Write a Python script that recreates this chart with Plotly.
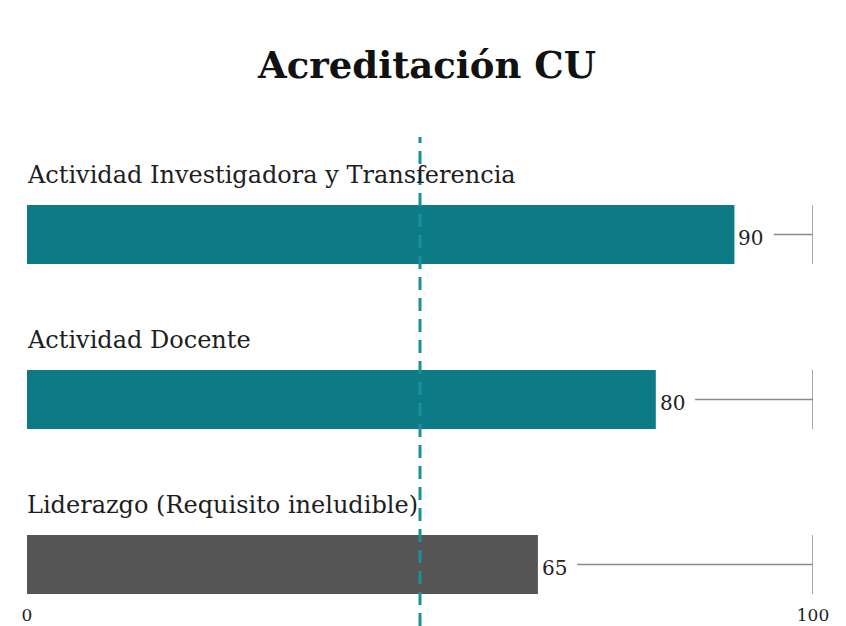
import plotly.graph_objects as go

categories = ["Actividad Investigadora y Transferencia", "Actividad Docente", "Liderazgo (Requisito ineludible)"]
values = [90, 80, 65]
bar_colors = ["#0c7b85", "#0c7b85", "#555555"]
threshold = 50
axis_max = 100
tick_vals = [0, 100]
tick_text = ["0", "100"]
title_text = "Acreditación CU"

# page body has an 8px margin, so the figure is sized/positioned accordingly
W, H = 838, 618
plot_bottom = 595
row0_px, row_gap_px, bar_px = 226.5, 165.0, 59.0
def px_to_y(p):
    return (p - row0_px) / row_gap_px

ypos = list(range(len(categories)))
bar_w = bar_px / row_gap_px

serif = "DejaVu Serif, Liberation Serif, serif"

fig = go.Figure()
fig.add_trace(go.Bar(
    x=values, y=ypos, orientation="h", width=bar_w,
    marker=dict(color=bar_colors, line=dict(width=0)),
    hoverinfo="skip", showlegend=False,
))

annotations = []
shapes = []
label_off = px_to_y(167) - px_to_y(row0_px)
for i, (c, v) in enumerate(zip(categories, values)):
    annotations.append(dict(x=0, y=i + label_off, xref="x", yref="y",
                            text=c, showarrow=False, xanchor="left", yanchor="middle", xshift=-2,
                            font=dict(family=serif, size=24, color="#1e1e1e")))
    annotations.append(dict(x=v, y=i, xref="x", yref="y", text=str(v), showarrow=False,
                            xanchor="left", yanchor="middle", xshift=2, yshift=-3,
                            font=dict(family=serif, size=20, color="#222222")))
    shapes.append(dict(type="line", xref="x", yref="y", x0=v + 5, x1=axis_max, y0=i, y1=i,
                       line=dict(color="#8a8a8a", width=1.5)))
    shapes.append(dict(type="line", xref="x", yref="y", x0=axis_max, x1=axis_max,
                       y0=i - bar_w / 2, y1=i + bar_w / 2,
                       line=dict(color="#8a8a8a", width=1.5)))

shapes.append(dict(type="line", xref="x", yref="paper", x0=threshold, x1=threshold,
                   y0=(plot_bottom - H) / plot_bottom, y1=(plot_bottom - 129) / plot_bottom,
                   line=dict(color="#1a9098", width=3, dash="13px,8px"), layer="above"))

fig.update_layout(
    width=W, height=H,
    margin=dict(l=19, r=33, t=0, b=H - plot_bottom, autoexpand=False),
    paper_bgcolor="white", plot_bgcolor="white",
    title=dict(text="<b>" + title_text + "</b>", x=0.5, xref="container", y=1 - 57 / H,
               yref="container", xanchor="center", yanchor="middle",
               font=dict(family=serif, size=37, color="#111111")),
    xaxis=dict(range=[0, axis_max], tickvals=tick_vals, ticktext=tick_text, showgrid=False,
               zeroline=False, showline=False, ticks="", ticklen=0, automargin=False,
               tickfont=dict(family=serif, size=17, color="#1e1e1e")),
    yaxis=dict(range=[px_to_y(plot_bottom), px_to_y(0)], showgrid=False, zeroline=False,
               showticklabels=False, showline=False, automargin=False),
    annotations=annotations, shapes=shapes,
)

fig.write_html("out.html")
